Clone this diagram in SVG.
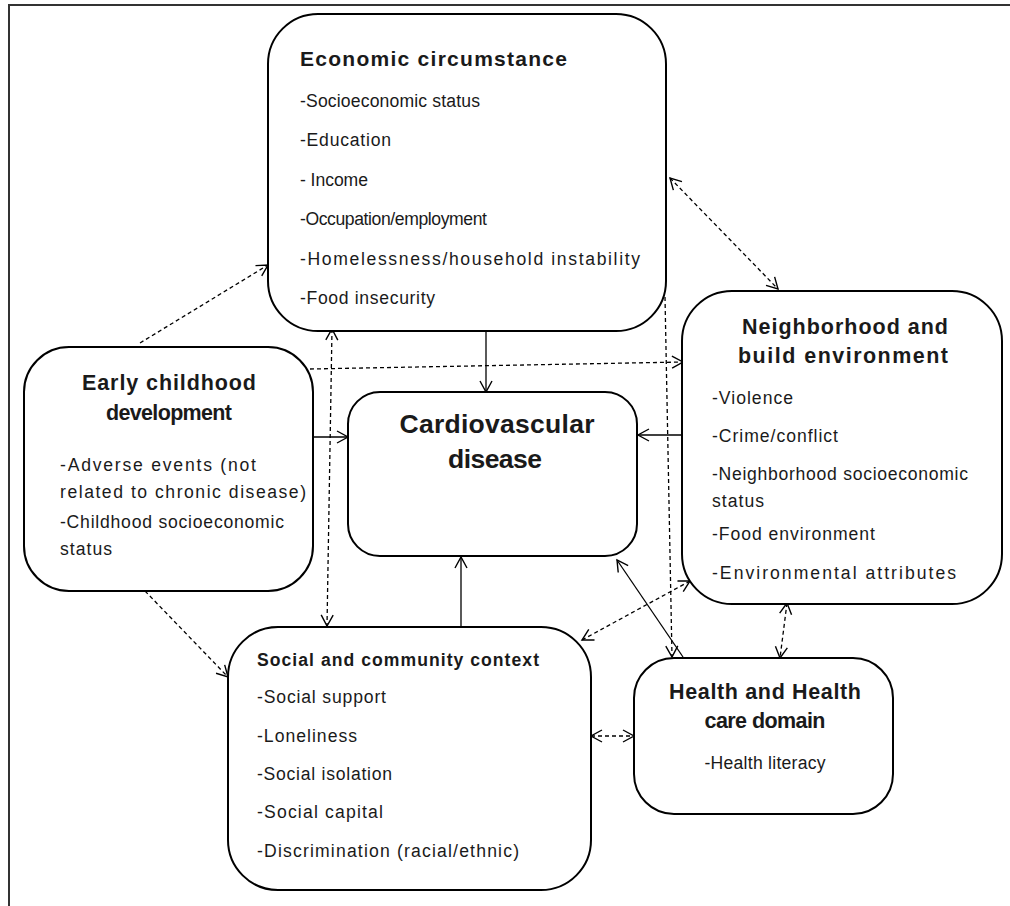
<svg xmlns="http://www.w3.org/2000/svg" width="1010" height="906" viewBox="0 0 1010 906">
<style>
.box{fill:#fff;stroke:#000;stroke-width:2}
.t{font-family:"Liberation Sans",Arial,sans-serif;fill:#1a1a1a}
.h{font-weight:bold;font-size:21.5px}
.i{font-size:17.6px}
.c{stroke:#000;stroke-width:1.3;fill:none}
.d{stroke-dasharray:4,3}
</style>
<defs>
<marker id="ah" markerUnits="userSpaceOnUse" markerWidth="14" markerHeight="14" refX="12" refY="7" orient="auto-start-reverse">
<path d="M1,1 L12,7 L1,13" fill="none" stroke="#000" stroke-width="1.4"/>
</marker>
</defs>
<rect x="9" y="5" width="1020" height="940" fill="#fff" stroke="#333" stroke-width="2"/>
<g id="connectors">
<line class="c d" x1="140" y1="343" x2="268" y2="265" marker-end="url(#ah)"/>
<line class="c" x1="486" y1="331" x2="486" y2="392" marker-end="url(#ah)"/>
<line class="c d" x1="332" y1="329" x2="327" y2="626" marker-start="url(#ah)" marker-end="url(#ah)"/>
<line class="c d" x1="310" y1="369" x2="683" y2="362" marker-end="url(#ah)"/>
<line class="c d" x1="665" y1="297" x2="672" y2="657" marker-end="url(#ah)"/>
<line class="c d" x1="670" y1="178" x2="778" y2="289" marker-start="url(#ah)" marker-end="url(#ah)"/>
<line class="c" x1="313" y1="437" x2="348" y2="437" marker-end="url(#ah)"/>
<line class="c" x1="681" y1="435" x2="638" y2="435" marker-end="url(#ah)"/>
<line class="c" x1="461" y1="626" x2="461" y2="557" marker-end="url(#ah)"/>
<line class="c" x1="683" y1="657" x2="617" y2="560" marker-end="url(#ah)"/>
<line class="c d" x1="582" y1="640" x2="690" y2="581" marker-start="url(#ah)" marker-end="url(#ah)"/>
<line class="c d" x1="787" y1="603" x2="780" y2="658" marker-start="url(#ah)" marker-end="url(#ah)"/>
<line class="c d" x1="591" y1="736" x2="634" y2="736" marker-start="url(#ah)" marker-end="url(#ah)"/>
<line class="c d" x1="145" y1="591" x2="228" y2="677" marker-end="url(#ah)"/>
</g>
<g id="economic">
<rect class="box" x="268" y="14" width="398" height="317" rx="50" ry="50"/>
<text class="t" x="300" y="66" font-weight="bold" font-size="21" textLength="267" lengthAdjust="spacing">Economic circumstance</text>
<text class="t i" x="300" y="107" textLength="180" lengthAdjust="spacing">-Socioeconomic status</text>
<text class="t i" x="300" y="146" textLength="91" lengthAdjust="spacing">-Education</text>
<text class="t i" x="300" y="186" textLength="68" lengthAdjust="spacing">- Income</text>
<text class="t i" x="300" y="225" textLength="187" lengthAdjust="spacing">-Occupation/employment</text>
<text class="t i" x="300" y="265" textLength="340" lengthAdjust="spacing">-Homelessness/household instability</text>
<text class="t i" x="300" y="304" textLength="135" lengthAdjust="spacing">-Food insecurity</text>
</g>
<g id="early">
<rect class="box" x="24" y="347" width="289" height="244" rx="45" ry="45"/>
<text class="t h" x="169" y="390" text-anchor="middle" textLength="174" lengthAdjust="spacing">Early childhood</text>
<text class="t h" x="169" y="420" text-anchor="middle" textLength="126" lengthAdjust="spacing">development</text>
<text class="t i" x="60" y="471" textLength="196" lengthAdjust="spacing">-Adverse events (not</text>
<text class="t i" x="60" y="498" textLength="246" lengthAdjust="spacing">related to chronic disease)</text>
<text class="t i" x="60" y="528" textLength="224" lengthAdjust="spacing">-Childhood socioeconomic</text>
<text class="t i" x="60" y="555" textLength="52" lengthAdjust="spacing">status</text>
</g>
<g id="cardio">
<rect class="box" x="348" y="392" width="289" height="164" rx="32" ry="32"/>
<text class="t" x="497" y="433" text-anchor="middle" font-weight="bold" font-size="26.5" textLength="195" lengthAdjust="spacing">Cardiovascular</text>
<text class="t" x="495" y="468" text-anchor="middle" font-weight="bold" font-size="26.5" textLength="94" lengthAdjust="spacing">disease</text>
</g>
<g id="neighborhood">
<rect class="box" x="682" y="291" width="320" height="313" rx="50" ry="50"/>
<text class="t h" x="845" y="334" text-anchor="middle" textLength="206" lengthAdjust="spacing">Neighborhood and</text>
<text class="t h" x="843" y="363" text-anchor="middle" textLength="210" lengthAdjust="spacing">build environment</text>
<text class="t i" x="712" y="404" textLength="81" lengthAdjust="spacing">-Violence</text>
<text class="t i" x="712" y="442" textLength="126" lengthAdjust="spacing">-Crime/conflict</text>
<text class="t i" x="712" y="480" textLength="256" lengthAdjust="spacing">-Neighborhood socioeconomic</text>
<text class="t i" x="712" y="507" textLength="52" lengthAdjust="spacing">status</text>
<text class="t i" x="712" y="540" textLength="163" lengthAdjust="spacing">-Food environment</text>
<text class="t i" x="712" y="579" textLength="244" lengthAdjust="spacing">-Environmental attributes</text>
</g>
<g id="social">
<rect class="box" x="228" y="627" width="363" height="263" rx="50" ry="50"/>
<text class="t" x="257" y="666" font-weight="bold" font-size="17.6" textLength="282" lengthAdjust="spacing">Social and community context</text>
<text class="t i" x="257" y="703" textLength="129" lengthAdjust="spacing">-Social support</text>
<text class="t i" x="257" y="742" textLength="100" lengthAdjust="spacing">-Loneliness</text>
<text class="t i" x="257" y="780" textLength="135" lengthAdjust="spacing">-Social isolation</text>
<text class="t i" x="257" y="818" textLength="126" lengthAdjust="spacing">-Social capital</text>
<text class="t i" x="257" y="857" textLength="262" lengthAdjust="spacing">-Discrimination (racial/ethnic)</text>
</g>
<g id="health">
<rect class="box" x="634" y="658" width="259" height="156" rx="40" ry="40"/>
<text class="t h" x="765" y="699" text-anchor="middle" textLength="192" lengthAdjust="spacing">Health and Health</text>
<text class="t h" x="765" y="728" text-anchor="middle" textLength="121" lengthAdjust="spacing">care domain</text>
<text class="t i" x="765" y="769" text-anchor="middle" textLength="121" lengthAdjust="spacing">-Health literacy</text>
</g>
</svg>
